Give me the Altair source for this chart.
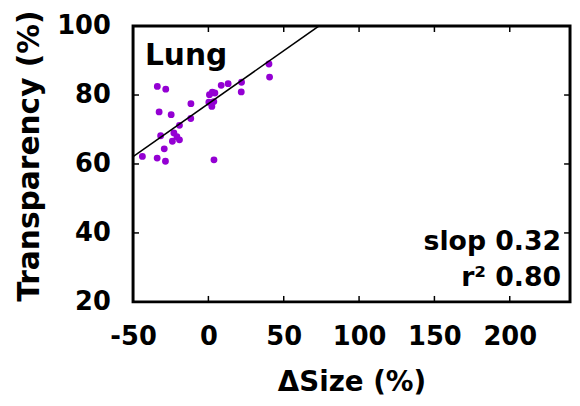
import altair as alt
import pandas as pd

# Data
size_change = [-33.9, -28.3, -32.7, -24.7, -11.6, -11.7, -19.2, -31.7, -22.9, -20.9,
               -23.9, -19.2, -29.3, -43.8, -34.0, -28.5, 3.7, 0.7, 2.6, 4.3,
               0.3, 3.6, 2.3, 8.5, 13.1, 22.0, 21.8, 40.2, 40.6]
transparency = [82.5, 81.7, 75.1, 74.3, 77.5, 73.2, 71.2, 68.2, 69.0, 67.9,
                66.6, 67.0, 64.4, 62.2, 61.7, 60.8, 61.2, 80.1, 80.8, 80.6,
                77.9, 78.1, 76.7, 82.8, 83.3, 83.7, 80.9, 89.0, 85.2]

x_ticks = [-50, 0, 50, 100, 150, 200]
y_ticks = [20, 40, 60, 80, 100]
x_domain = [-50, 240]
y_domain = [20, 100]

fit_slope = 0.307
fit_intercept = 77.5
fit_x = [-50, 240]

panel_label = ["Lung"]
stat_labels = ["slop 0.32", "r\u00b2 0.80"]

W, H = 442, 279
FONT = "DejaVu Sans"
PURPLE = "#9400D3"

pts = pd.DataFrame({"x": size_change, "y": transparency})
fit = pd.DataFrame({"x": fit_x, "y": [fit_intercept + fit_slope * v for v in fit_x]})
xt = pd.DataFrame({"x": x_ticks, "y": [y_domain[0]] * len(x_ticks)})
yt = pd.DataFrame({"y": y_ticks, "x": [x_domain[0]] * len(y_ticks)})

xs = alt.Scale(domain=x_domain, nice=False, zero=False)
ys = alt.Scale(domain=y_domain, nice=False, zero=False)

xaxis = alt.Axis(values=x_ticks, title="\u0394Size (%)", grid=False, ticks=False, tickSize=0,
                 domain=False, labelFont=FONT, labelFontWeight="bold", labelFontSize=26,
                 labelColor="black", labelPadding=22, labelFlush=False,
                 labelExpr="'' + datum.value",
                 titleFont=FONT, titleFontWeight="bold", titleFontSize=28, titleColor="black",
                 titleX=W / 2, titleY=90, titleBaseline="alphabetic", titleAlign="center")
yaxis = alt.Axis(values=y_ticks, title="Transparency (%)", grid=False, ticks=False, tickSize=0,
                 domain=False, labelFont=FONT, labelFontWeight="bold", labelFontSize=26,
                 labelColor="black", labelPadding=23, labelFlush=False,
                 titleFont=FONT, titleFontWeight="bold", titleFontSize=30, titleColor="black",
                 titleAngle=270, titleX=-96, titleY=131, titleBaseline="alphabetic",
                 titleAlign="center")

X = alt.X("x:Q", scale=xs, axis=xaxis)
Y = alt.Y("y:Q", scale=ys, axis=yaxis)

points = alt.Chart(pts).mark_circle(size=48, color=PURPLE, opacity=1).encode(x=X, y=Y)

line = alt.Chart(fit).mark_line(color="black", strokeWidth=1.6, clip=True).encode(x=X, y=Y)

tick_style = dict(color="black", strokeWidth=1.5)
bottom_ticks = alt.Chart(xt).mark_rule(**tick_style).encode(
    x=X, y=alt.value(H), y2=alt.value(H - 6))
top_ticks = alt.Chart(xt).mark_rule(**tick_style).encode(
    x=X, y=alt.value(0), y2=alt.value(6))
left_ticks = alt.Chart(yt).mark_rule(**tick_style).encode(
    y=Y, x=alt.value(0), x2=alt.value(6))
right_ticks = alt.Chart(yt).mark_rule(**tick_style).encode(
    y=Y, x=alt.value(W), x2=alt.value(W - 6))

lung = alt.Chart(pd.DataFrame({"t": panel_label})).mark_text(
    font=FONT, fontWeight="bold", fontSize=30, color="black", align="left",
    baseline="alphabetic").encode(text="t:N", x=alt.value(12), y=alt.value(39))

stat1 = alt.Chart(pd.DataFrame({"t": stat_labels[:1]})).mark_text(
    font=FONT, fontWeight="bold", fontSize=27, color="black", align="right",
    baseline="alphabetic").encode(text="t:N", x=alt.value(W - 9), y=alt.value(227))
stat2 = alt.Chart(pd.DataFrame({"t": stat_labels[1:]})).mark_text(
    font=FONT, fontWeight="bold", fontSize=27, color="black", align="right",
    baseline="alphabetic").encode(text="t:N", x=alt.value(W - 9), y=alt.value(263))

chart = alt.layer(points, line, bottom_ticks, top_ticks, left_ticks, right_ticks,
                  lung, stat1, stat2).properties(
    width=W, height=H,
    autosize=alt.AutoSizeParams(type="none"),
    padding={"left": 126.5, "top": 16, "right": 2, "bottom": 100},
).configure_view(stroke="black", strokeWidth=3)

chart.save("out.html", embed_options={"renderer": "svg", "actions": False})
